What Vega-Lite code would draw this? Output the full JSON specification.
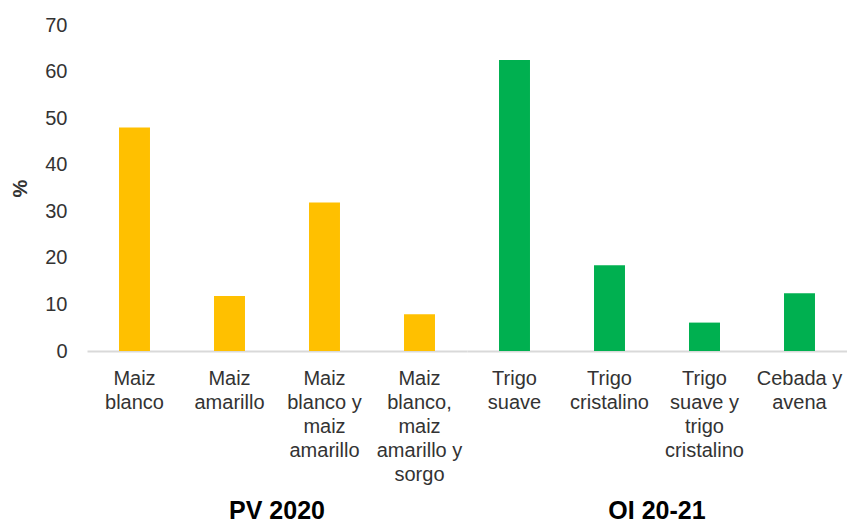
{
  "$schema": "https://vega.github.io/schema/vega-lite/v6.json",
  "padding": {"left": 10, "top": 15, "right": 0, "bottom": 0},
  "background": "white",
  "data": {
    "values": [
      {"grupo": "PV 2020", "cultivo": "Maiz\nblanco", "pct": 48.0},
      {"grupo": "PV 2020", "cultivo": "Maiz\namarillo", "pct": 11.8},
      {"grupo": "PV 2020", "cultivo": "Maiz\nblanco y\nmaiz\namarillo", "pct": 31.9},
      {"grupo": "PV 2020", "cultivo": "Maiz\nblanco,\nmaiz\namarillo y\nsorgo", "pct": 7.9},
      {"grupo": "OI 20-21", "cultivo": "Trigo\nsuave", "pct": 62.5},
      {"grupo": "OI 20-21", "cultivo": "Trigo\ncristalino", "pct": 18.4},
      {"grupo": "OI 20-21", "cultivo": "Trigo\nsuave y\ntrigo\ncristalino", "pct": 6.1},
      {"grupo": "OI 20-21", "cultivo": "Cebada y\navena", "pct": 12.4}
    ]
  },
  "facet": {
    "column": {
      "field": "grupo",
      "type": "nominal",
      "sort": ["PV 2020", "OI 20-21"],
      "header": {
        "title": null,
        "labelOrient": "bottom",
        "labelFont": "Liberation Sans",
        "labelFontSize": 25,
        "labelFontWeight": "bold",
        "labelColor": "#000000",
        "labelPadding": 15
      }
    }
  },
  "spacing": 0,
  "resolve": {"scale": {"x": "independent"}},
  "spec": {
    "width": 380,
    "height": 326,
    "mark": {"type": "bar"},
    "encoding": {
      "x": {
        "field": "cultivo",
        "type": "nominal",
        "sort": null,
        "scale": {"paddingInner": 0.674, "paddingOuter": 0.337},
        "axis": {
          "title": null,
          "ticks": false,
          "domainColor": "#D9D9D9",
          "domainWidth": 2,
          "labelAngle": 0,
          "labelFont": "Liberation Sans",
          "labelFontSize": 20,
          "labelLineHeight": 24,
          "labelColor": "#333333",
          "labelPadding": 17,
          "labelBaseline": "top",
          "labelLimit": 200,
          "labelExpr": "split(datum.label, '\\n')"
        }
      },
      "y": {
        "field": "pct",
        "type": "quantitative",
        "scale": {"domain": [0, 70]},
        "axis": {
          "title": "%",
          "titleFont": "Liberation Sans",
          "titleFontSize": 20,
          "titleFontWeight": "bold",
          "titleColor": "#333333",
          "titlePadding": 14,
          "values": [0, 10, 20, 30, 40, 50, 60, 70],
          "grid": false,
          "ticks": false,
          "domain": false,
          "labelFont": "Liberation Sans",
          "labelFontSize": 20,
          "labelColor": "#333333",
          "labelPadding": 20
        }
      },
      "color": {
        "field": "grupo",
        "type": "nominal",
        "scale": {"domain": ["PV 2020", "OI 20-21"], "range": ["#FFC000", "#00B050"]},
        "legend": null
      }
    }
  },
  "config": {"view": {"stroke": null}, "font": "Liberation Sans"}
}
